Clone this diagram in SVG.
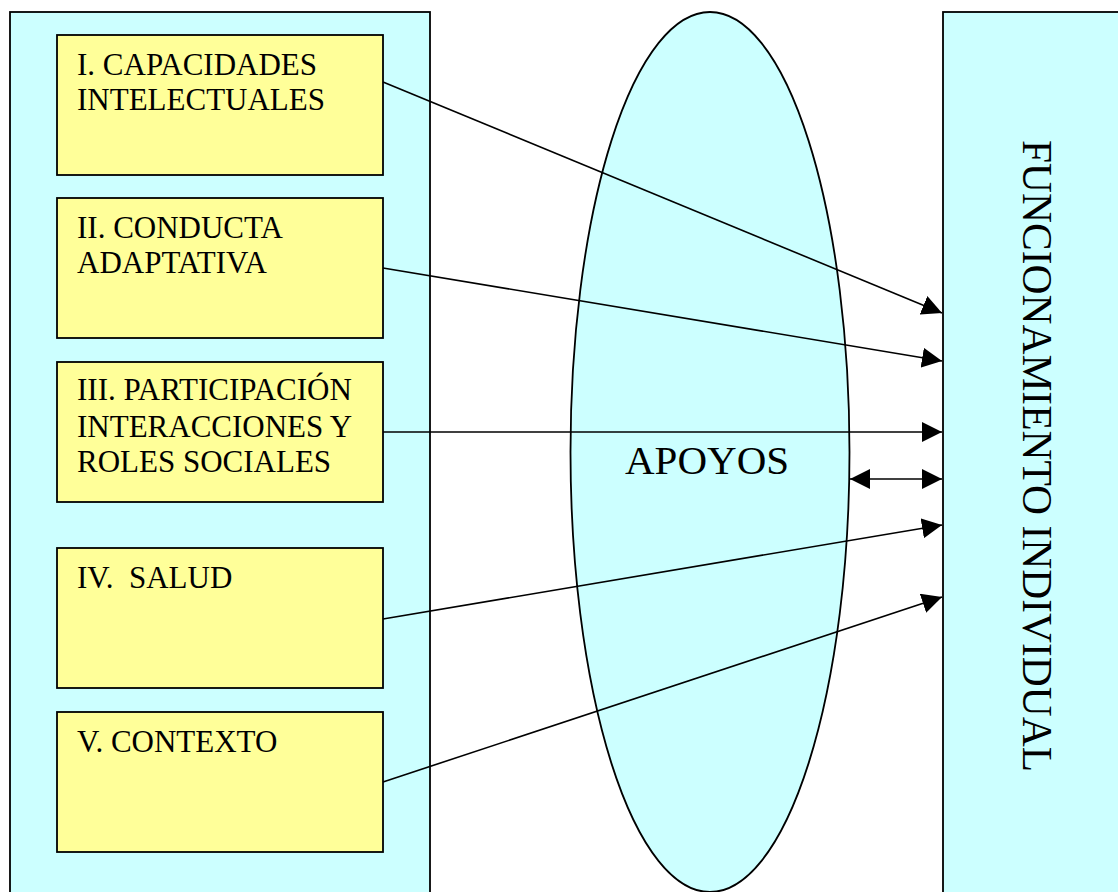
<svg xmlns="http://www.w3.org/2000/svg" width="1118" height="892" viewBox="0 0 1118 892">
<style>
.panel{fill:#CCFFFF;stroke:#000;stroke-width:1.8}
.box{fill:#FFFF99;stroke:#000;stroke-width:1.8}
.lbl{font-family:"Liberation Serif","Times New Roman",serif;font-size:31px;fill:#000}
.big{font-family:"Liberation Serif","Times New Roman",serif;font-size:41px;fill:#000}
.conn{stroke:#000;stroke-width:1.6;fill:none}
</style>
<defs>
<marker id="ah" markerUnits="userSpaceOnUse" markerWidth="20" markerHeight="20" refX="20" refY="10" orient="auto-start-reverse" viewBox="0 0 20 20">
<path d="M0,0 L20,10 L0,20 z" fill="#000"/>
</marker>
</defs>
<rect width="1118" height="892" fill="#fff"/>
<g id="left-panel">
<rect class="panel" x="10" y="12" width="420" height="900"/>
</g>
<g id="apoyos">
<ellipse class="panel" cx="710" cy="452" rx="139.5" ry="440" stroke-width="1.6"/>
<text class="big" x="625" y="474">APOYOS</text>
</g>
<g id="funcionamiento">
<rect class="panel" x="943" y="12" width="200" height="900"/>
<text class="big" style="font-size:41.5px" transform="translate(1023,140) rotate(90)">FUNCIONAMIENTO INDIVIDUAL</text>
</g>
<g id="box1">
<rect class="box" x="57" y="35" width="326" height="140"/>
<text class="lbl" x="77" y="75">I. CAPACIDADES</text>
<text class="lbl" x="77" y="110">INTELECTUALES</text>
</g>
<g id="box2">
<rect class="box" x="57" y="198" width="326" height="140"/>
<text class="lbl" x="77" y="238">II. CONDUCTA</text>
<text class="lbl" x="77" y="273">ADAPTATIVA</text>
</g>
<g id="box3">
<rect class="box" x="57" y="362" width="326" height="140"/>
<text class="lbl" x="77" y="400">III. PARTICIPACIÓN</text>
<text class="lbl" x="77" y="437">INTERACCIONES Y</text>
<text class="lbl" x="77" y="472">ROLES SOCIALES</text>
</g>
<g id="box4">
<rect class="box" x="57" y="548" width="326" height="140"/>
<text class="lbl" x="77" y="588" xml:space="preserve">IV.  SALUD</text>
</g>
<g id="box5">
<rect class="box" x="57" y="712" width="326" height="140"/>
<text class="lbl" x="77" y="752">V. CONTEXTO</text>
</g>
<g id="connectors">
<line class="conn" x1="383" y1="82" x2="942" y2="313" marker-end="url(#ah)"/>
<line class="conn" x1="383" y1="268" x2="942" y2="361" marker-end="url(#ah)"/>
<line class="conn" x1="383" y1="432" x2="942" y2="432" marker-end="url(#ah)"/>
<line class="conn" x1="850" y1="479" x2="942" y2="479" marker-start="url(#ah)" marker-end="url(#ah)"/>
<line class="conn" x1="383" y1="619" x2="942" y2="525" marker-end="url(#ah)"/>
<line class="conn" x1="383" y1="782" x2="942" y2="597" marker-end="url(#ah)"/>
</g>
</svg>
